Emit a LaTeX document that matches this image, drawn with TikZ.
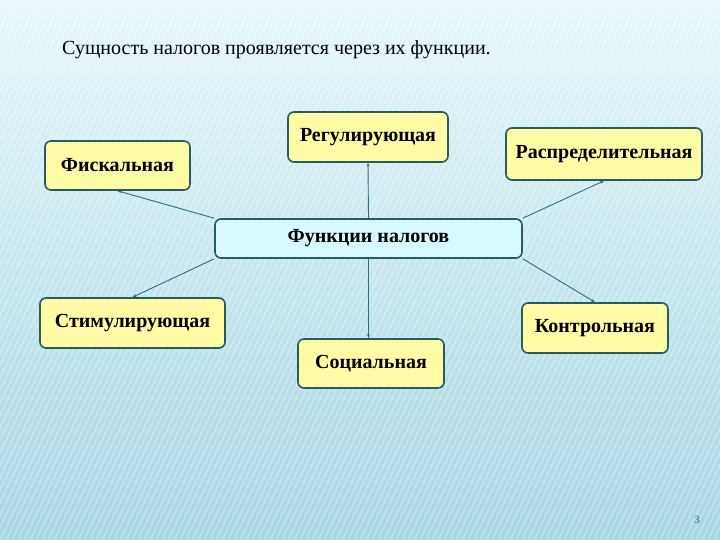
\documentclass[tikz,border=0pt]{standalone}
\usepackage{fontspec}
\setmainfont{Liberation Serif}
\usetikzlibrary{arrows.meta}

\definecolor{bgtop}{RGB}{232,247,251}
\definecolor{bgbot}{RGB}{165,214,226}
\definecolor{boxline}{RGB}{38,92,92}
\definecolor{boxfill}{RGB}{255,250,165}
\definecolor{funcfill}{RGB}{214,249,255}
\definecolor{linkcol}{RGB}{40,112,130}

\begin{document}
\begin{tikzpicture}[x=1pt, y=-1pt, every node/.style={font=\fontsize{20}{24}\selectfont\bfseries}, >={Stealth[length=4pt, width=3pt]}]
	\tikzset{
		box/.style={draw=boxline, line width=1.6pt, rounded corners=6pt, fill=boxfill, inner sep=0pt},
		link/.style={->, draw=linkcol, line width=0.9pt}
	}
	% background
	\shade[top color=bgtop, bottom color=bgbot] (0,0) rectangle (720,540);
	\begin{scope}
		\clip (0,0) rectangle (720,540);
		\foreach \i in {-600,-594,...,720}
			\draw[white, opacity=0.3, line width=1.5pt] (\i,540) -- (\i+260,0);
	\end{scope}
	\useasboundingbox (0,0) rectangle (720,540);

	\node[font=\fontsize{20}{24}\selectfont, anchor=west, inner sep=0pt] (title) at (62,50) {Сущность налогов проявляется через их функции.};

	\node[box, fill=funcfill, minimum width=307pt, minimum height=39pt] (func) at (368.5,238.5) {Функции налогов};
	\node[box, minimum width=145pt, minimum height=49pt] (fisc) at (117.5,165.5) {Фискальная};
	\node[box, minimum width=160pt, minimum height=50pt] (reg) at (368,137) {Регулирующая};
	\node[box, minimum width=196pt, minimum height=52pt] (rasp) at (604,154) {Распределительная};
	\node[box, minimum width=185pt, minimum height=50pt] (stim) at (132.5,323) {Стимулирующая};
	\node[box, minimum width=146pt, minimum height=50pt] (kontr) at (595,328) {Контрольная};
	\node[box, minimum width=146pt, minimum height=49pt] (soc) at (371,363.5) {Социальная};

	\draw[link] (func.north west) -- (fisc.south);
	\draw[link] (func.north) -- (reg.south);
	\draw[link] (func.north east) -- (rasp.south);
	\draw[link] (func.south west) -- (stim.north);
	\draw[link] (func.south) -- (func.south |- soc.north);
	\draw[link] (func.south east) -- (kontr.north);

	\node[font=\fontsize{11}{12}\selectfont, text=linkcol] (page) at (697,520) {3};
\end{tikzpicture}
\end{document}
